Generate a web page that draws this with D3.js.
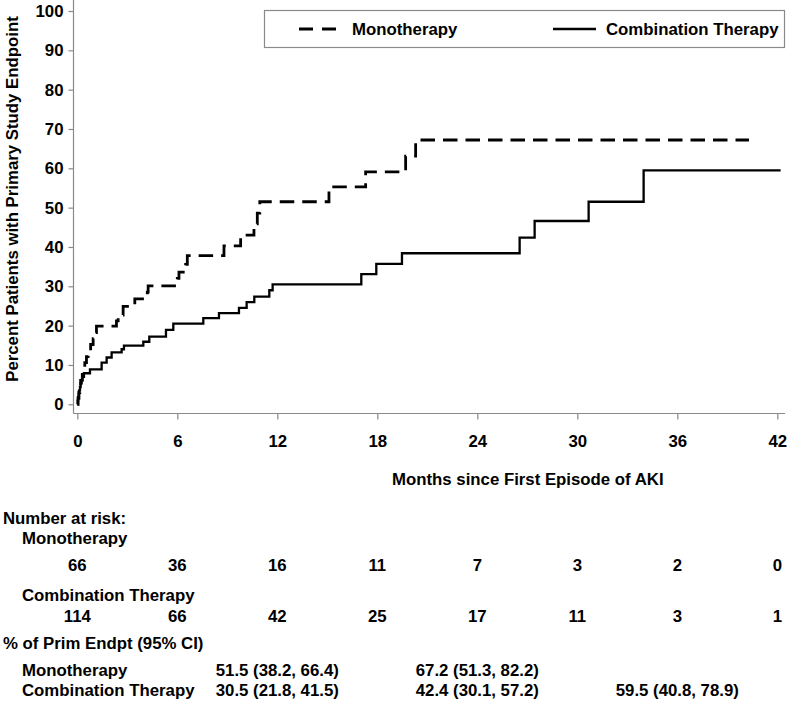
<!DOCTYPE html>
<html>
<head>
<meta charset="utf-8">
<script src="https://cdn.jsdelivr.net/npm/d3@7/dist/d3.min.js"></script>
<style>
  html, body { margin: 0; padding: 0; background: #fff; }
  svg text { font-family: "Liberation Sans", Arial, sans-serif; font-weight: bold; font-size: 16.8px; fill: #000; }
</style>
</head>
<body>
<svg id="chart" width="791" height="702"></svg>
<script>
// ---- data ----
const monoTimes  = [0, 0.05, 0.1, 0.15, 0.2, 0.3, 0.35, 0.45, 0.55, 0.65, 0.8, 0.95, 1.05, 1.15, 2.35, 2.45, 2.75, 3.45, 4.2, 4.25, 6.0, 6.1, 6.5, 6.6, 8.8, 9.8, 10.6, 10.8, 10.95, 15.1, 17.3, 19.7, 20.3, 40.3];
const monoValues = [0, 1.5, 3.0, 4.5, 6.1, 7.6, 9.1, 10.6, 12.1, 13.6, 15.2, 16.7, 18.2, 19.9, 21.2, 22.7, 24.9, 26.8, 28.5, 30.1, 32.0, 33.6, 35.6, 37.8, 40.3, 43.0, 45.9, 48.6, 51.5, 55.3, 59.1, 63.1, 67.2, 67.2];

const comboTimes  = [0, 0.02, 0.04, 0.08, 0.1, 0.16, 0.2, 0.26, 0.3, 0.4, 0.76, 1.46, 1.76, 2.06, 2.66, 2.8, 3.96, 4.32, 5.32, 5.76, 7.56, 8.5, 9.7, 10.16, 10.62, 11.52, 11.72, 17.04, 17.94, 19.48, 26.54, 27.44, 30.68, 33.98, 42.2];
const comboValues = [0, 0.9, 1.8, 2.7, 3.5, 4.4, 5.3, 6.2, 7.0, 7.9, 8.9, 10.6, 11.9, 13.2, 14.0, 14.9, 15.9, 17.2, 18.9, 20.5, 21.9, 23.2, 24.5, 26.0, 27.4, 29.0, 30.5, 33.1, 35.7, 38.4, 42.4, 46.6, 51.5, 59.5, 59.5];

const xTicks = [0, 6, 12, 18, 24, 30, 36, 42];
const yTicks = [0, 10, 20, 30, 40, 50, 60, 70, 80, 90, 100];

const seriesNames = ["Monotherapy", "Combination Therapy"];
const riskMono  = [66, 36, 16, 11, 7, 3, 2, 0];
const riskCombo = [114, 66, 42, 25, 17, 11, 3, 1];

const ciTimes = [12, 24, 36];
const ciMono  = ["51.5 (38.2, 66.4)", "67.2 (51.3, 82.2)", ""];
const ciCombo = ["30.5 (21.8, 41.5)", "42.4 (30.1, 57.2)", "59.5 (40.8, 78.9)"];

const xTitle = "Months since First Episode of AKI";
const yTitle = "Percent Patients with Primary Study Endpoint";

// ---- layout ----
const svg = d3.select("#chart");
const x = d3.scaleLinear().domain([0, 42]).range([77.3, 777.3]);
const y = d3.scaleLinear().domain([0, 100]).range([404.3, 11]);
const axisY = 413.5, axisX = 73.5;
const axisColor = "#8a8a8a";

// axis lines
svg.append("line").attr("x1", axisX).attr("x2", axisX).attr("y1", 0).attr("y2", axisY)
  .attr("stroke", axisColor).attr("stroke-width", 1.2);
svg.append("line").attr("x1", axisX).attr("x2", 785).attr("y1", axisY).attr("y2", axisY)
  .attr("stroke", axisColor).attr("stroke-width", 1.2);

// y axis
const gy = svg.append("g").attr("transform", `translate(${axisX},0)`)
  .call(d3.axisLeft(y).tickValues(yTicks).tickSize(5).tickPadding(5).tickSizeOuter(0));
gy.select(".domain").remove();
gy.selectAll(".tick line").attr("stroke", axisColor).attr("stroke-width", 1.2);
gy.selectAll(".tick text").attr("font-size", 16.8).attr("font-family", null).attr("fill", "#000");

// x axis
const gx = svg.append("g").attr("transform", `translate(0,${axisY})`)
  .call(d3.axisBottom(x).tickValues(xTicks).tickSize(6).tickPadding(15.3).tickSizeOuter(0));
gx.select(".domain").remove();
gx.selectAll(".tick line").attr("stroke", axisColor).attr("stroke-width", 1.2);
gx.selectAll(".tick text").attr("font-size", 16.8).attr("font-family", null).attr("fill", "#000");

// titles
svg.append("text").attr("x", 392).attr("y", 485).text(xTitle);
svg.append("text").attr("transform", "translate(18,199) rotate(-90)")
  .attr("text-anchor", "middle").text(yTitle);

// curves
const line = d3.line().x(d => x(d[0])).y(d => y(d[1])).curve(d3.curveStepAfter);
const mono = monoTimes.map((t, i) => [t, monoValues[i]]);
const combo = comboTimes.map((t, i) => [t, comboValues[i]]);

svg.append("path").datum(combo).attr("d", line)
  .attr("fill", "none").attr("stroke", "#000").attr("stroke-width", 2.3);
svg.append("path").datum(mono).attr("d", line)
  .attr("fill", "none").attr("stroke", "#000").attr("stroke-width", 2.8)
  .attr("stroke-dasharray", "14.5,8");

// legend
const lg = svg.append("g");
lg.append("rect").attr("x", 264.5).attr("y", 10.5).attr("width", 520).attr("height", 37)
  .attr("fill", "#fff").attr("stroke", axisColor).attr("stroke-width", 1.2);
lg.append("line").attr("x1", 299).attr("x2", 337).attr("y1", 29).attr("y2", 29)
  .attr("stroke", "#000").attr("stroke-width", 2.8).attr("stroke-dasharray", "14,9");
lg.append("text").attr("x", 352).attr("y", 35).text(seriesNames[0]);
lg.append("line").attr("x1", 553).attr("x2", 596).attr("y1", 29).attr("y2", 29)
  .attr("stroke", "#000").attr("stroke-width", 2.3);
lg.append("text").attr("x", 606).attr("y", 35).text(seriesNames[1]);

// risk table
const tb = svg.append("g");
tb.append("text").attr("x", 3).attr("y", 524).text("Number at risk:");
tb.append("text").attr("x", 22).attr("y", 544).text(seriesNames[0]);
tb.selectAll(".rm").data(riskMono).enter().append("text")
  .attr("x", (d, i) => x(xTicks[i])).attr("y", 570.5).attr("text-anchor", "middle").text(d => d);
tb.append("text").attr("x", 22).attr("y", 600.5).text(seriesNames[1]);
tb.selectAll(".rc").data(riskCombo).enter().append("text")
  .attr("x", (d, i) => x(xTicks[i])).attr("y", 622).attr("text-anchor", "middle").text(d => d);

tb.append("text").attr("x", 3).attr("y", 648.5).text("% of Prim Endpt (95% CI)");
tb.append("text").attr("x", 22).attr("y", 675.5).text(seriesNames[0]);
tb.selectAll(".cm").data(ciMono).enter().append("text")
  .attr("x", (d, i) => x(ciTimes[i])).attr("y", 675.5).attr("text-anchor", "middle").text(d => d);
tb.append("text").attr("x", 22).attr("y", 696).text(seriesNames[1]);
tb.selectAll(".cc").data(ciCombo).enter().append("text")
  .attr("x", (d, i) => x(ciTimes[i])).attr("y", 696).attr("text-anchor", "middle").text(d => d);
</script>
</body>
</html>
